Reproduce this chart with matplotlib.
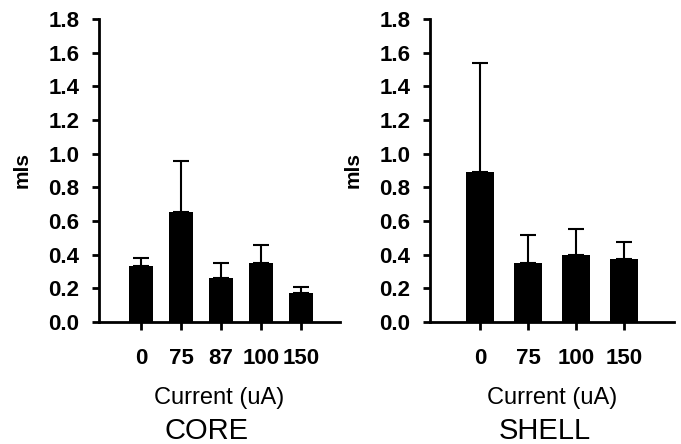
import matplotlib
matplotlib.use("Agg")
import matplotlib.pyplot as plt
import numpy as np

plt.rcParams['font.family'] = ['Liberation Sans', 'DejaVu Sans']

core_labels = ['0', '75', '87', '100', '150']
core_means = [0.334, 0.654, 0.263, 0.351, 0.170]
core_err = [0.044, 0.304, 0.086, 0.108, 0.038]

shell_labels = ['0', '75', '100', '150']
shell_means = [0.889, 0.349, 0.398, 0.374]
shell_err = [0.652, 0.168, 0.155, 0.099]

fig = plt.figure(figsize=(6.81, 4.44), dpi=100)

ax1 = fig.add_axes([99/681, 122/444, 241/681, 303/444])
ax2 = fig.add_axes([430/681, 122/444, 244/681, 303/444])


def draw_panel(ax, labels, means, err, width, xlim):
    idx = np.arange(len(labels))
    ax.bar(idx, means, width, color='black', zorder=2)
    ax.errorbar(idx, means, yerr=[np.zeros(len(err)), err], fmt='none',
                ecolor='black', elinewidth=1.5, capsize=6, capthick=1.5, zorder=1)
    ax.set_xlim(*xlim)
    ax.set_ylim(0, 1.8)
    ax.set_yticks(np.arange(0, 1.81, 0.2))
    ax.set_yticklabels(['%.1f' % v for v in np.arange(0, 1.81, 0.2)],
                       fontsize=16, fontweight='bold')
    ax.set_xticks(idx)
    ax.set_xticklabels(labels, fontsize=16, fontweight='bold')
    ax.spines['top'].set_visible(False)
    ax.spines['right'].set_visible(False)
    ax.spines['left'].set_linewidth(2)
    ax.spines['bottom'].set_linewidth(2)
    ax.tick_params(axis='y', direction='out', length=5, width=2, pad=9)
    ax.tick_params(axis='x', direction='out', length=6, width=2, pad=13)
    ax.set_ylabel('mls', fontsize=15, fontweight='bold', labelpad=12)
    ax.set_xlabel('Current (uA)', fontsize=17, labelpad=13)


draw_panel(ax1, core_labels, core_means, core_err, 0.6, (-1.05, 4.97))
draw_panel(ax2, shell_labels, shell_means, shell_err, 0.58, (-1.04, 4.04))

fig.text(207/681, 1 - 439/444, 'CORE', fontsize=21, ha='center', va='baseline')
fig.text(545/681, 1 - 439/444, 'SHELL', fontsize=21, ha='center', va='baseline')

fig.savefig('out.png', dpi=100)
